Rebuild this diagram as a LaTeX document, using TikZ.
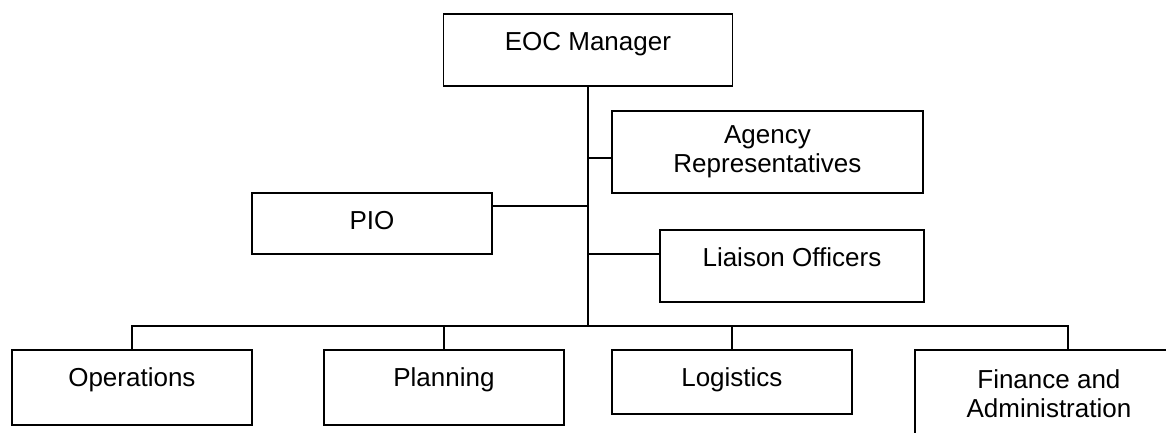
\documentclass[tikz,border=0pt]{standalone}
\usepackage{fontspec}
\setmainfont{Liberation Sans}
\usepackage{tikz}
\usetikzlibrary{calc}

\begin{document}
\begin{tikzpicture}[x=1pt, y=-1pt,
    orgbox/.style={draw, line width=1.8pt, inner sep=0pt, anchor=north west,
        font=\fontsize{26}{29}\selectfont, align=center},
    oneline/.style={text height=37pt, text depth=#1},
    link/.style={line width=1.8pt}]
    \useasboundingbox (0,0) rectangle (1166,432);
    \clip (0,0) rectangle (1166,432);

    % Manager and staff
    \node[orgbox, minimum width=289pt, oneline=35pt] (eoc) at (442.5,13) {EOC Manager};
    \node[orgbox, minimum width=311pt, minimum height=82pt] (agency) at (611,110) {Agency\\Representatives};
    \node[orgbox, minimum width=240pt, oneline=24pt] (pio) at (251,192) {PIO};
    \node[orgbox, minimum width=264pt, oneline=35pt] (liaison) at (659,229) {Liaison Officers};

    % Sections
    \node[orgbox, minimum width=240pt, oneline=38pt] (ops) at (11,349) {Operations};
    \node[orgbox, minimum width=240pt, oneline=38pt] (plan) at (323,349) {Planning};
    \node[orgbox, minimum width=240pt, oneline=27pt] (logi) at (611,349) {Logistics};
    \node[orgbox, minimum width=268pt, minimum height=88pt] (fin) at (914,349) {Finance and\\Administration};

    % Trunk and staff links
    \coordinate (bus) at (eoc.south |- 0,326);
    \coordinate (findrop) at ([xshift=19pt]fin.north);
    \draw[link] (eoc.south) -- (bus);
    \draw[link] ([yshift=-6pt]agency.west) -- ([yshift=-6pt]agency.west -| bus);
    \draw[link] ([yshift=17.5pt]pio.east) -- ([yshift=17.5pt]pio.east -| bus);
    \draw[link] ([yshift=12pt]liaison.west) -- ([yshift=12pt]liaison.west -| bus);

    % Section bus
    \draw[link] (ops.north) |- (bus) -| (findrop);
    \foreach \s in {plan, logi} {
        \draw[link] (\s.north) -- (\s.north |- bus);
    }
\end{tikzpicture}
\end{document}
